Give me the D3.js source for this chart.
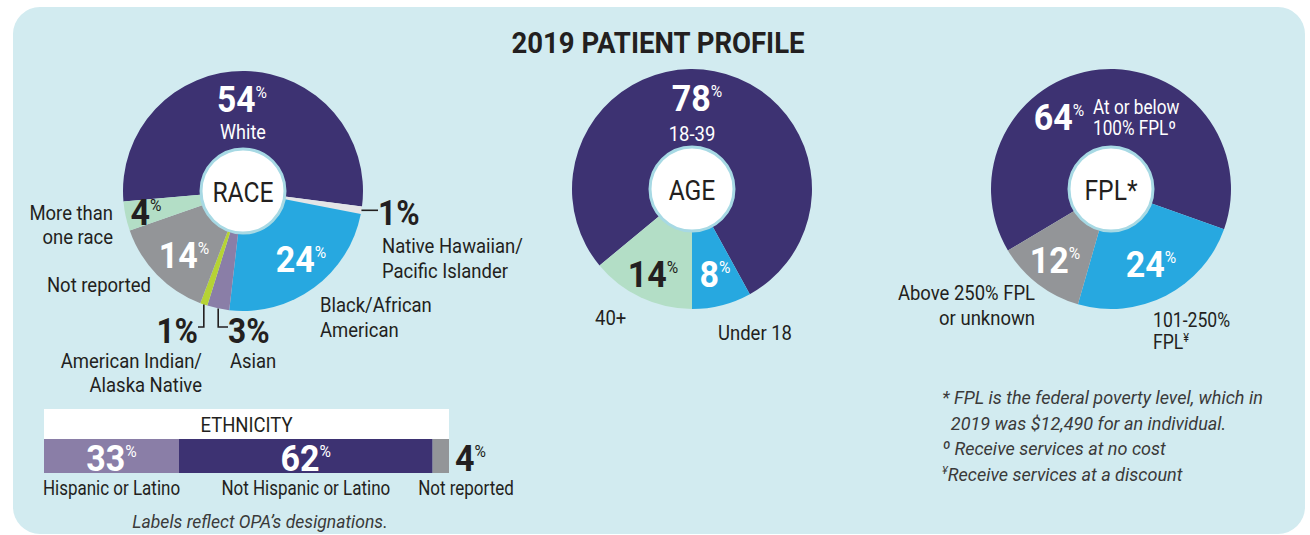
<!DOCTYPE html>
<html>
<head>
<meta charset="utf-8">
<script src="https://cdn.jsdelivr.net/npm/d3@7"></script>
<style>
  html, body { margin: 0; padding: 0; background: #ffffff; }
  svg { display: block; }
</style>
</head>
<body>
<svg id="chart" width="1310" height="535"></svg>
<script>
// ---------------- DATA ----------------
const title = "2019 PATIENT PROFILE";

const raceCategories = ["White", "Native Hawaiian/Pacific Islander", "Black/African American", "Asian", "American Indian/Alaska Native", "Not reported", "More than one race"];
const raceValues = [54, 1, 24, 3, 1, 14, 4];
const raceNameLines = [["White"], ["Native Hawaiian/", "Pacific Islander"], ["Black/African", "American"], ["Asian"], ["American Indian/", "Alaska Native"], ["Not reported"], ["More than", "one race"]];

const ageCategories = ["18-39", "Under 18", "40+"];
const ageValues = [78, 8, 14];
const ageNameLines = [["18-39"], ["Under 18"], ["40+"]];

const fplCategories = ["At or below 100% FPL", "101-250% FPL", "Above 250% FPL or unknown"];
const fplValues = [64, 24, 12];
const fplNameLines = [["At or below", "100% FPL\u00BA"], ["101-250%", "FPL\u00A5"], ["Above 250% FPL", "or unknown"]];

const ethnicityCategories = ["Hispanic or Latino", "Not Hispanic or Latino", "Not reported"];
const ethnicityValues = [33, 62, 4];

const footnotes = ["* FPL is the federal poverty level, which in", "  2019 was $12,490 for an individual.", "\u00BA Receive services at no cost", "\u00A5Receive services at a discount"];
const ethnicityNote = "Labels reflect OPA\u2019s designations.";

// ---------------- STYLE ----------------
const C = {
  bg: "#d2ebf0", purple: "#3d3272", blue: "#27a8e0", gray: "#939598", mint: "#b3dec6",
  asian: "#8a7ea7", lime: "#b6d334", nhpi: "#e4e5e7", dark: "#231f20", ring: "#a7d9e4", white: "#ffffff"
};
const raceColors = [C.purple, C.nhpi, C.blue, C.asian, C.lime, C.gray, C.mint];
const ageColors = [C.purple, C.blue, C.mint];
const fplColors = [C.purple, C.blue, C.gray];
const ethnicityColors = [C.asian, C.purple, C.gray];

const FONT = "Roboto, 'Noto Sans', sans-serif";
const SX = 0.88;
const deg = Math.PI / 180;
const SUPCHARS = "\u00A5";

const svg = d3.select("#chart");

// background panel
svg.append("rect").attr("x", 13).attr("y", 7).attr("width", 1292).attr("height", 527)
  .attr("rx", 27).attr("ry", 27).attr("fill", C.bg);

function addText(parent, x, y, segments, o) {
  const t = parent.append("text")
    .attr("transform", `translate(${x},${y}) scale(${o.sx ?? SX},1)`)
    .attr("text-anchor", o.anchor || "start")
    .attr("font-family", FONT)
    .attr("font-size", o.size)
    .attr("font-weight", o.weight || 400)
    .attr("font-style", o.italic ? "italic" : "normal")
    .attr("fill", o.fill || C.dark)
    .style("white-space", "pre");
  segments.forEach(s => {
    const ts = t.append("tspan").text(s.text);
    if (s.size) ts.attr("font-size", s.size);
    if (s.dy) ts.attr("dy", s.dy);
    if (s.weight) ts.attr("font-weight", s.weight);
  });
  return t;
}
// split a plain line into segments, making ¥ a small superscript
function lineSegs(line, size) {
  const segs = [];
  let buf = "", reset = 0;
  const flush = () => { if (buf) { segs.push({ text: buf, dy: reset || undefined }); reset = 0; buf = ""; } };
  for (const ch of line) {
    if (SUPCHARS.includes(ch)) {
      flush();
      segs.push({ text: ch, size: size * 0.62, dy: -size * 0.32 });
      reset = size * 0.32;
    } else buf += ch;
  }
  flush();
  return segs;
}
function valueSegs(v, sup, size) {
  return sup ? [{ text: String(v) }, { text: "%", size: 17, dy: -14, weight: 400 }]
             : [{ text: String(v) + "%" }];
}

// title
addText(svg, 658, 53, [{ text: title }], { size: 29, weight: 700, anchor: "middle", sx: 0.95 });

// ---------------- PIES ----------------
const R = 120, HOLE = 42;
function drawPie(cfg) {
  const g = svg.append("g").attr("transform", `translate(${cfg.cx},${cfg.cy})`);
  const pie = d3.pie().sort(null).value(d => d)
    .startAngle(cfg.start * deg).endAngle(cfg.start * deg + 2 * Math.PI);
  const arcs = pie(cfg.values);
  const arc = d3.arc().innerRadius(0).outerRadius(R);
  g.selectAll("path.slice").data(arcs).join("path").attr("class", "slice")
    .attr("d", arc).attr("fill", (d, i) => cfg.colors[i]);
  g.append("circle").attr("r", HOLE).attr("fill", C.white).attr("stroke", C.ring).attr("stroke-width", 3);
  addText(g, 0, 11, [{ text: cfg.center }], { size: 28, anchor: "middle" });
  return { g, arcs };
}

// label layout (relative to pie centre): v = [dx, dy, anchor, fill, superscript %, size], n = [dx, dy, anchor, fill, size, lineGap]
function drawLabels(p, layout, values, names) {
  layout.forEach((L, i) => {
    const v = values[i];
    addText(p.g, L.v[0], L.v[1], valueSegs(v, L.v[4]),
      { size: L.v[5] || (L.v[4] ? 37 : 36), weight: 700, anchor: L.v[2], fill: L.v[3], sx: L.v[4] ? 0.92 : 0.88 });
    const nsize = L.n[4] || 21, gap = L.n[5] || 24.5;
    names[i].forEach((line, k) => {
      addText(p.g, L.n[0], L.n[1] + k * gap, lineSegs(line, nsize), { size: nsize, anchor: L.n[2], fill: L.n[3] });
    });
    if (L.line) {
      const a = (p.arcs[i].startAngle + p.arcs[i].endAngle) / 2;
      const x0 = R * Math.sin(a), y0 = -R * Math.cos(a);
      const pts = L.line === "h" ? [[x0, y0], [L.to, y0]] : [[x0, y0], [x0, L.ly], [L.to, L.ly]];
      p.g.append("path").attr("d", d3.line()(pts)).attr("fill", "none")
        .attr("stroke", C.dark).attr("stroke-width", 1.6);
    }
  });
}

// Race
const race = drawPie({ cx: 243, cy: 191, start: -95, values: raceValues, colors: raceColors, center: "RACE" });
const raceLabelLayout = [
  { v: [-1, -79, "middle", C.white, true, 36.5], n: [0, -52, "middle", C.white, 20.5] },
  { v: [135, 34, "start", C.dark, false], n: [139, 62, "start", C.dark], line: "h", to: 135 },
  { v: [58, 81, "middle", C.white, true], n: [77, 121, "start", C.dark] },
  { v: [-15, 152, "start", C.dark, false], n: [-13, 177, "start", C.dark], line: "L", to: -15, ly: 136 },
  { v: [-45, 152, "end", C.dark, false], n: [-41, 177, "end", C.dark, 21, 24], line: "L", to: -45, ly: 136 },
  { v: [-59, 77, "middle", C.white, true], n: [-92, 101, "end", C.dark] },
  { v: [-97, 34, "middle", C.dark, true], n: [-130, 29, "end", C.dark, 21, 23.5] }
];
drawLabels(race, raceLabelLayout, raceValues, raceNameLines);

// Age
const age = drawPie({ cx: 692, cy: 189, start: -129.6, values: ageValues, colors: ageColors, center: "AGE" });
const ageLabelLayout = [
  { v: [5, -78, "middle", C.white, true], n: [0, -48, "middle", C.white] },
  { v: [23, 98, "middle", C.white, true], n: [26, 151, "start", C.dark] },
  { v: [-39, 98, "middle", C.dark, true], n: [-97, 136, "start", C.dark] }
];
drawLabels(age, ageLabelLayout, ageValues, ageNameLines);

// FPL
const fpl = drawPie({ cx: 1111, cy: 189, start: -120.8, values: fplValues, colors: fplColors, center: "FPL*" });
const fplLabelLayout = [
  { v: [-52, -59, "middle", C.white, true], n: [-18, -75, "start", C.white, 19.5, 20.5] },
  { v: [40, 88, "middle", C.white, true], n: [42, 138, "start", C.dark, 20, 21.5] },
  { v: [-56, 84, "middle", C.white, true], n: [-76, 111, "end", C.dark, 21, 25] }
];
drawLabels(fpl, fplLabelLayout, fplValues, fplNameLines);

// ---------------- ETHNICITY BAR ----------------
const eth = svg.append("g");
const ex = d3.scaleLinear().domain([0, d3.sum(ethnicityValues)]).range([44, 449]);
const barY = 439, barH = 34;
eth.append("rect").attr("x", ex(0)).attr("y", 409).attr("width", ex.range()[1] - ex(0)).attr("height", 30).attr("fill", C.white);
addText(eth, (ex.range()[0] + ex.range()[1]) / 2, 432, [{ text: "ETHNICITY" }], { size: 21, anchor: "middle" });
let acc = 0;
const ethSegs = ethnicityValues.map(v => { const s = { x0: acc, x1: acc + v, v }; acc += v; return s; });
eth.selectAll("rect.seg").data(ethSegs).join("rect").attr("class", "seg")
  .attr("x", d => ex(d.x0)).attr("y", barY).attr("width", d => ex(d.x1) - ex(d.x0)).attr("height", barH)
  .attr("fill", (d, i) => ethnicityColors[i]);
ethSegs.forEach((s, i) => {
  const inside = i < 2;
  const xv = inside ? (ex(s.x0) + ex(s.x1)) / 2 : ex(s.x1) + 6;
  addText(eth, xv, 471, valueSegs(s.v, true), { size: 37, weight: 700, anchor: inside ? "middle" : "start", fill: inside ? C.white : C.dark, sx: 0.92 });
  const xn = inside ? (ex(s.x0) + ex(s.x1)) / 2 : ex(s.x1) + 17;
  addText(eth, xn, 495, [{ text: ethnicityCategories[i] }], { size: 20, anchor: "middle", sx: 0.85 });
});
addText(eth, 260, 528, [{ text: ethnicityNote }], { size: 18.5, italic: true, anchor: "middle", fill: "#3a3a3a", sx: 0.95 });

// ---------------- FOOTNOTES ----------------
footnotes.forEach((t, i) => {
  addText(svg, 942, 404 + i * 25.5, lineSegs(t, 19), { size: 19, italic: true, fill: "#3a3a3a", sx: 0.95 });
});
</script>
</body>
</html>
